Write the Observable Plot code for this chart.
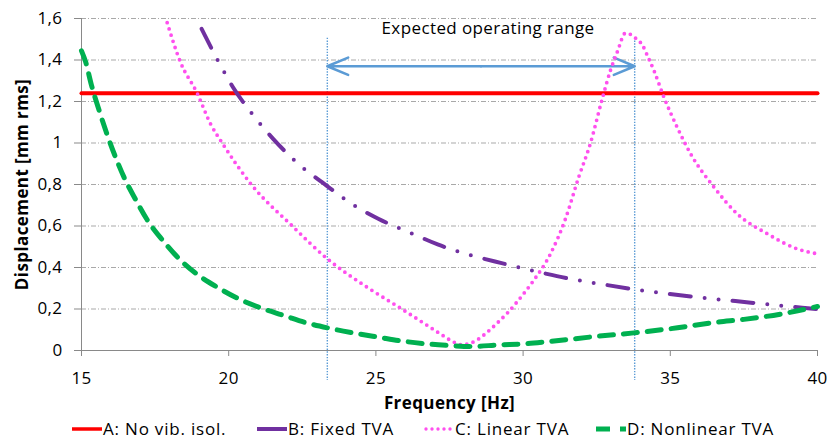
<!DOCTYPE html>
<html>
<head>
<meta charset="utf-8">
<script src="https://cdn.jsdelivr.net/npm/d3@7"></script>
<script src="https://cdn.jsdelivr.net/npm/@observablehq/plot@0.6"></script>
<style>
  html, body { margin: 0; padding: 0; background: #fff; }
  #wrap { width: 829px; height: 441px; overflow: hidden; font-family: "Open Sans", Lato, sans-serif; }
  #legend { position: relative; width: 829px; height: 26px; font-size: 17px; letter-spacing: 0.8px; color: #000; }
  #legend .item { position: absolute; top: 2px; display: flex; align-items: center; white-space: nowrap; }
  #legend svg { margin-right: 1px; }
</style>
</head>
<body>
<div id="wrap"></div>
<script>
// ---------- data ----------
const seriesNames = ["A: No vib. isol.", "B: Fixed TVA", "C: Linear TVA", "D: Nonlinear TVA"];
const seriesColors = ["#ff0000", "#7030a0", "#ff4fee", "#00b050"];

const freqA = [15, 40];
const dispA = [1.24, 1.24];

const freqB = [19.08, 19.66, 20.14, 20.91, 21.51, 22.44, 23.18, 24.25, 25.08, 26.29, 27.12, 28.38, 29.27, 30.53, 31.46, 32.74, 33.67, 34.95, 35.91, 37.21, 38.14, 39.48, 40];
const dispB = [1.55, 1.39, 1.27, 1.12, 1.02, 0.89, 0.81, 0.70, 0.635, 0.56, 0.51, 0.453, 0.421, 0.378, 0.349, 0.318, 0.297, 0.273, 0.257, 0.238, 0.225, 0.206, 0.2];

const freqC = [17.91, 18.36, 18.93, 19.38, 19.78, 20.77, 22.16, 23.35, 24.7, 25.78, 26.57, 27.19, 27.59, 27.9, 28.21, 28.44, 28.78, 29.12, 29.46, 30.08, 30.36, 30.93, 31.44, 31.89, 32.29, 32.69, 32.97, 33.2, 33.48, 33.65, 33.87, 34.04, 34.24, 34.44, 34.78, 35.23, 35.69, 36.48, 37.27, 38.29, 39.31, 40];
const dispC = [1.58, 1.39, 1.24, 1.093, 1.0, 0.8, 0.6, 0.442, 0.305, 0.209, 0.137, 0.08, 0.045, 0.028, 0.035, 0.051, 0.088, 0.132, 0.18, 0.285, 0.338, 0.466, 0.635, 0.836, 1.0, 1.214, 1.351, 1.439, 1.53, 1.523, 1.499, 1.475, 1.415, 1.351, 1.222, 1.077, 0.948, 0.788, 0.659, 0.563, 0.49, 0.466];

const freqD = [15.0, 15.14, 15.34, 15.59, 15.84, 16.13, 16.45, 16.84, 17.23, 17.74, 18.28, 18.93, 19.61, 20.34, 21.11, 21.87, 22.67, 23.46, 24.31, 25.1, 25.91, 26.74, 27.53, 28.2, 29.2, 30.05, 30.87, 32.5, 33.76, 35, 36.6, 37.5, 38.85, 40];
const dispD = [1.444, 1.391, 1.278, 1.161, 1.053, 0.941, 0.833, 0.727, 0.63, 0.534, 0.447, 0.367, 0.305, 0.249, 0.204, 0.169, 0.132, 0.106, 0.083, 0.064, 0.045, 0.032, 0.024, 0.019, 0.027, 0.032, 0.043, 0.068, 0.085, 0.105, 0.137, 0.15, 0.178, 0.212];

const xTicks = [15, 20, 25, 30, 35, 40];
const yTicks = [0, 0.2, 0.4, 0.6, 0.8, 1, 1.2, 1.4, 1.6];
const rangeLimits = [23.35, 33.79];     // expected operating range [Hz]
const rangeLineTop = 1.505, rangeLineBottom = -0.145;
const arrowLevel = 1.37;
const rangeLabel = "Expected operating range";
const rangeLabelLevel = 1.552;
const xLabel = "Frequency [Hz]";
const yLabel = "Displacement [mm rms]";

// ---------- build ----------
const toRows = (fx, fy) => fx.map((f, i) => ({f, v: fy[i]}));
const A = toRows(freqA, dispA), B = toRows(freqB, dispB), C = toRows(freqC, dispC), D = toRows(freqD, dispD);
const mid = (rangeLimits[0] + rangeLimits[1]) / 2;
const arrows = [
  {x1: mid, x2: rangeLimits[0], y: arrowLevel},
  {x1: mid, x2: rangeLimits[1], y: arrowLevel}
];
const fmt = d => String(d).replace(".", ",");
const axisGray = "#898989";
const FONT = "'Open Sans', Lato, sans-serif";

const chart = Plot.plot({
  width: 829, height: 415,
  marginLeft: 81, marginRight: 12, marginTop: 18, marginBottom: 65,
  x: {domain: [15, 40]},
  y: {domain: [0, 1.6]},
  style: {fontFamily: FONT, fontSize: "17px", letterSpacing: "0.4px", color: "#000", background: "#fff", overflow: "visible"},
  marks: [
    Plot.ruleY(yTicks.filter(d => d > 0), {stroke: "#a9a9a9", strokeWidth: 1, strokeDasharray: "5,2,1,2"}),
    Plot.ruleX([15], {stroke: axisGray}),
    Plot.ruleY([0], {stroke: axisGray}),
    Plot.axisX({ticks: xTicks, tickSize: 6, tickPadding: 15, stroke: axisGray, label: null, tickFormat: d => String(d), fontSize: 17}),
    Plot.axisY({ticks: yTicks, tickSize: 7, tickPadding: 12, stroke: axisGray, label: null, tickFormat: fmt, fontSize: 17}),
    Plot.ruleX(rangeLimits, {y1: rangeLineTop, y2: rangeLineBottom, stroke: "#5b9bd5", strokeWidth: 1.4, strokeDasharray: "1.4,1.4"}),
    Plot.arrow(arrows, {x1: "x1", y1: "y", x2: "x2", y2: "y", stroke: "#5b9bd5", strokeWidth: 2.6, headLength: 13, headAngle: 45}),
    Plot.text([rangeLabel], {x: mid, y: rangeLabelLevel, dx: 7, text: d => d, fontSize: 17, fill: "#000"}),
    Plot.line(A, {x: "f", y: "v", stroke: seriesColors[0], strokeWidth: 4}),
    Plot.line(B, {x: "f", y: "v", stroke: seriesColors[1], strokeWidth: 4, curve: "monotone-x", strokeLinecap: "round", strokeDasharray: "21,14,0,14,0,14"}),
    Plot.line(C, {x: "f", y: "v", stroke: seriesColors[2], strokeWidth: 3.8, curve: "monotone-x", strokeLinecap: "round", strokeDasharray: "0,6.5"}),
    Plot.line(D, {x: "f", y: "v", stroke: seriesColors[3], strokeWidth: 5, curve: "monotone-x", strokeDasharray: "14,10"}),
    Plot.text([xLabel], {frameAnchor: "bottom", dy: 53, lineAnchor: "middle", textAnchor: "middle", text: d => d, fontWeight: "bold", fontSize: 17, fill: "#000"}),
    Plot.text([yLabel], {frameAnchor: "left", dx: -59, rotate: -90, lineAnchor: "middle", textAnchor: "middle", text: d => d, fontWeight: "bold", fontSize: 17, fill: "#000"})
  ]
});

const wrap = document.getElementById("wrap");
wrap.appendChild(chart);

// ---------- legend ----------
const legend = document.createElement("div");
legend.id = "legend";
const legendLeft = [72, 257, 424, 596];
const swatchStyle = [
  {w: 3.5, dash: null, cap: "butt"},
  {w: 4, dash: null, cap: "butt"},
  {w: 3.4, dash: "0,6", cap: "round"},
  {w: 5, dash: "14,10", cap: "butt"}
];
seriesNames.forEach((name, i) => {
  const it = document.createElement("div");
  it.className = "item";
  it.style.left = legendLeft[i] + "px";
  const s = swatchStyle[i];
  it.innerHTML = `<svg width="30" height="12"><line x1="${s.cap === "round" ? 2 : 0}" x2="30" y1="6" y2="6" stroke="${seriesColors[i]}" stroke-width="${s.w}" stroke-linecap="${s.cap}" ${s.dash ? `stroke-dasharray="${s.dash}"` : ""}/></svg><span>${name}</span>`;
  legend.appendChild(it);
});
wrap.appendChild(legend);
</script>
</body>
</html>
